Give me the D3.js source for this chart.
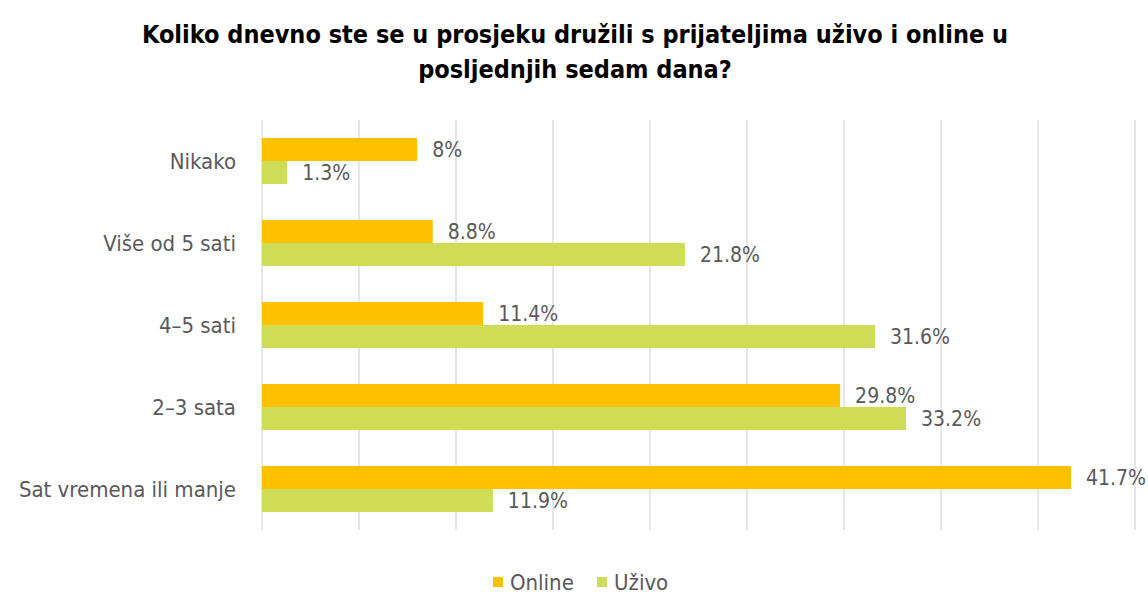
<!DOCTYPE html>
<html>
<head>
<meta charset="utf-8">
<script src="https://cdn.jsdelivr.net/npm/d3@7"></script>
<style>
  html, body { margin: 0; padding: 0; background: #fff; }
  svg { display: block; }
  .title { font-family: "DejaVu Sans Condensed", "Liberation Sans Narrow", sans-serif; font-weight: bold; font-size: 25px; fill: #000; }
  .cat, .val, .leg { font-family: "DejaVu Sans Condensed", "Liberation Sans Narrow", sans-serif; fill: #595959; }
</style>
</head>
<body>
<svg id="chart" width="1148" height="595"></svg>
<script>
// Response categories, top to bottom
const categories = ["Nikako", "Više od 5 sati", "4–5 sati", "2–3 sata", "Sat vremena ili manje"];
// Share of respondents (%)
const online = [8, 8.8, 11.4, 29.8, 41.7];
const uzivo = [1.3, 21.8, 31.6, 33.2, 11.9];
const seriesNames = ["Online", "Uživo"];
const xTicks = [0, 5, 10, 15, 20, 25, 30, 35, 40, 45];
const titleLines = ["Koliko dnevno ste se u prosjeku družili s prijateljima uživo i online u", "posljednjih sedam dana?"];

const colors = { "Online": "#FFC000", "Uživo": "#CFDC55" };

const svg = d3.select("#chart");
const margin = { left: 262, right: 13, top: 120, bottom: 65 };
const W = 1148, H = 595;

const x = d3.scaleLinear().domain([0, 45]).range([margin.left, W - margin.right]);
const y = d3.scaleBand().domain(categories).range([margin.top, H - margin.bottom]).paddingInner(0.44).paddingOuter(0.22);
const ySub = d3.scaleBand().domain(seriesNames).range([0, y.bandwidth()]);

// Title
svg.append("g").selectAll("text").data(titleLines).join("text")
  .attr("class", "title")
  .attr("x", 575).attr("y", (d, i) => 43 + i * 35)
  .attr("text-anchor", "middle")
  .text(d => d);

// Vertical gridlines
svg.append("g").selectAll("line").data(xTicks).join("line")
  .attr("x1", d => x(d)).attr("x2", d => x(d))
  .attr("y1", margin.top).attr("y2", H - margin.bottom)
  .attr("stroke", "#d9d9d9").attr("stroke-width", 1.3);

// Category axis labels
svg.append("g").selectAll("text").data(categories).join("text")
  .attr("class", "cat")
  .attr("x", margin.left - 26)
  .attr("y", d => y(d) + y.bandwidth() / 2)
  .attr("dy", "0.35em")
  .attr("text-anchor", "end")
  .attr("font-size", 22)
  .text(d => d);

const rows = categories.map((c, i) => ({ cat: c, vals: [
  { s: "Online", v: online[i] },
  { s: "Uživo", v: uzivo[i] }
]}));

const grp = svg.append("g").selectAll("g").data(rows).join("g")
  .attr("transform", d => `translate(0,${y(d.cat)})`);

grp.selectAll("rect").data(d => d.vals).join("rect")
  .attr("x", x(0))
  .attr("y", d => ySub(d.s))
  .attr("width", d => x(d.v) - x(0))
  .attr("height", ySub.bandwidth())
  .attr("fill", d => colors[d.s]);

grp.selectAll("text").data(d => d.vals).join("text")
  .attr("class", "val")
  .attr("x", d => x(d.v) + 15)
  .attr("y", d => ySub(d.s) + ySub.bandwidth() / 2)
  .attr("dy", "0.35em")
  .attr("font-size", 21)
  .text(d => `${d.v}%`);

// Legend
const legend = svg.append("g").attr("transform", "translate(493,582)");
const legItems = legend.selectAll("g").data(seriesNames).join("g")
  .attr("transform", (d, i) => `translate(${i * 104},0)`);
legItems.append("rect").attr("x", 0).attr("y", -5).attr("width", 10).attr("height", 10)
  .attr("fill", d => colors[d]);
legItems.append("text").attr("class", "leg").attr("x", 17).attr("dy", "0.35em")
  .attr("font-size", 22).text(d => d);
</script>
</body>
</html>
